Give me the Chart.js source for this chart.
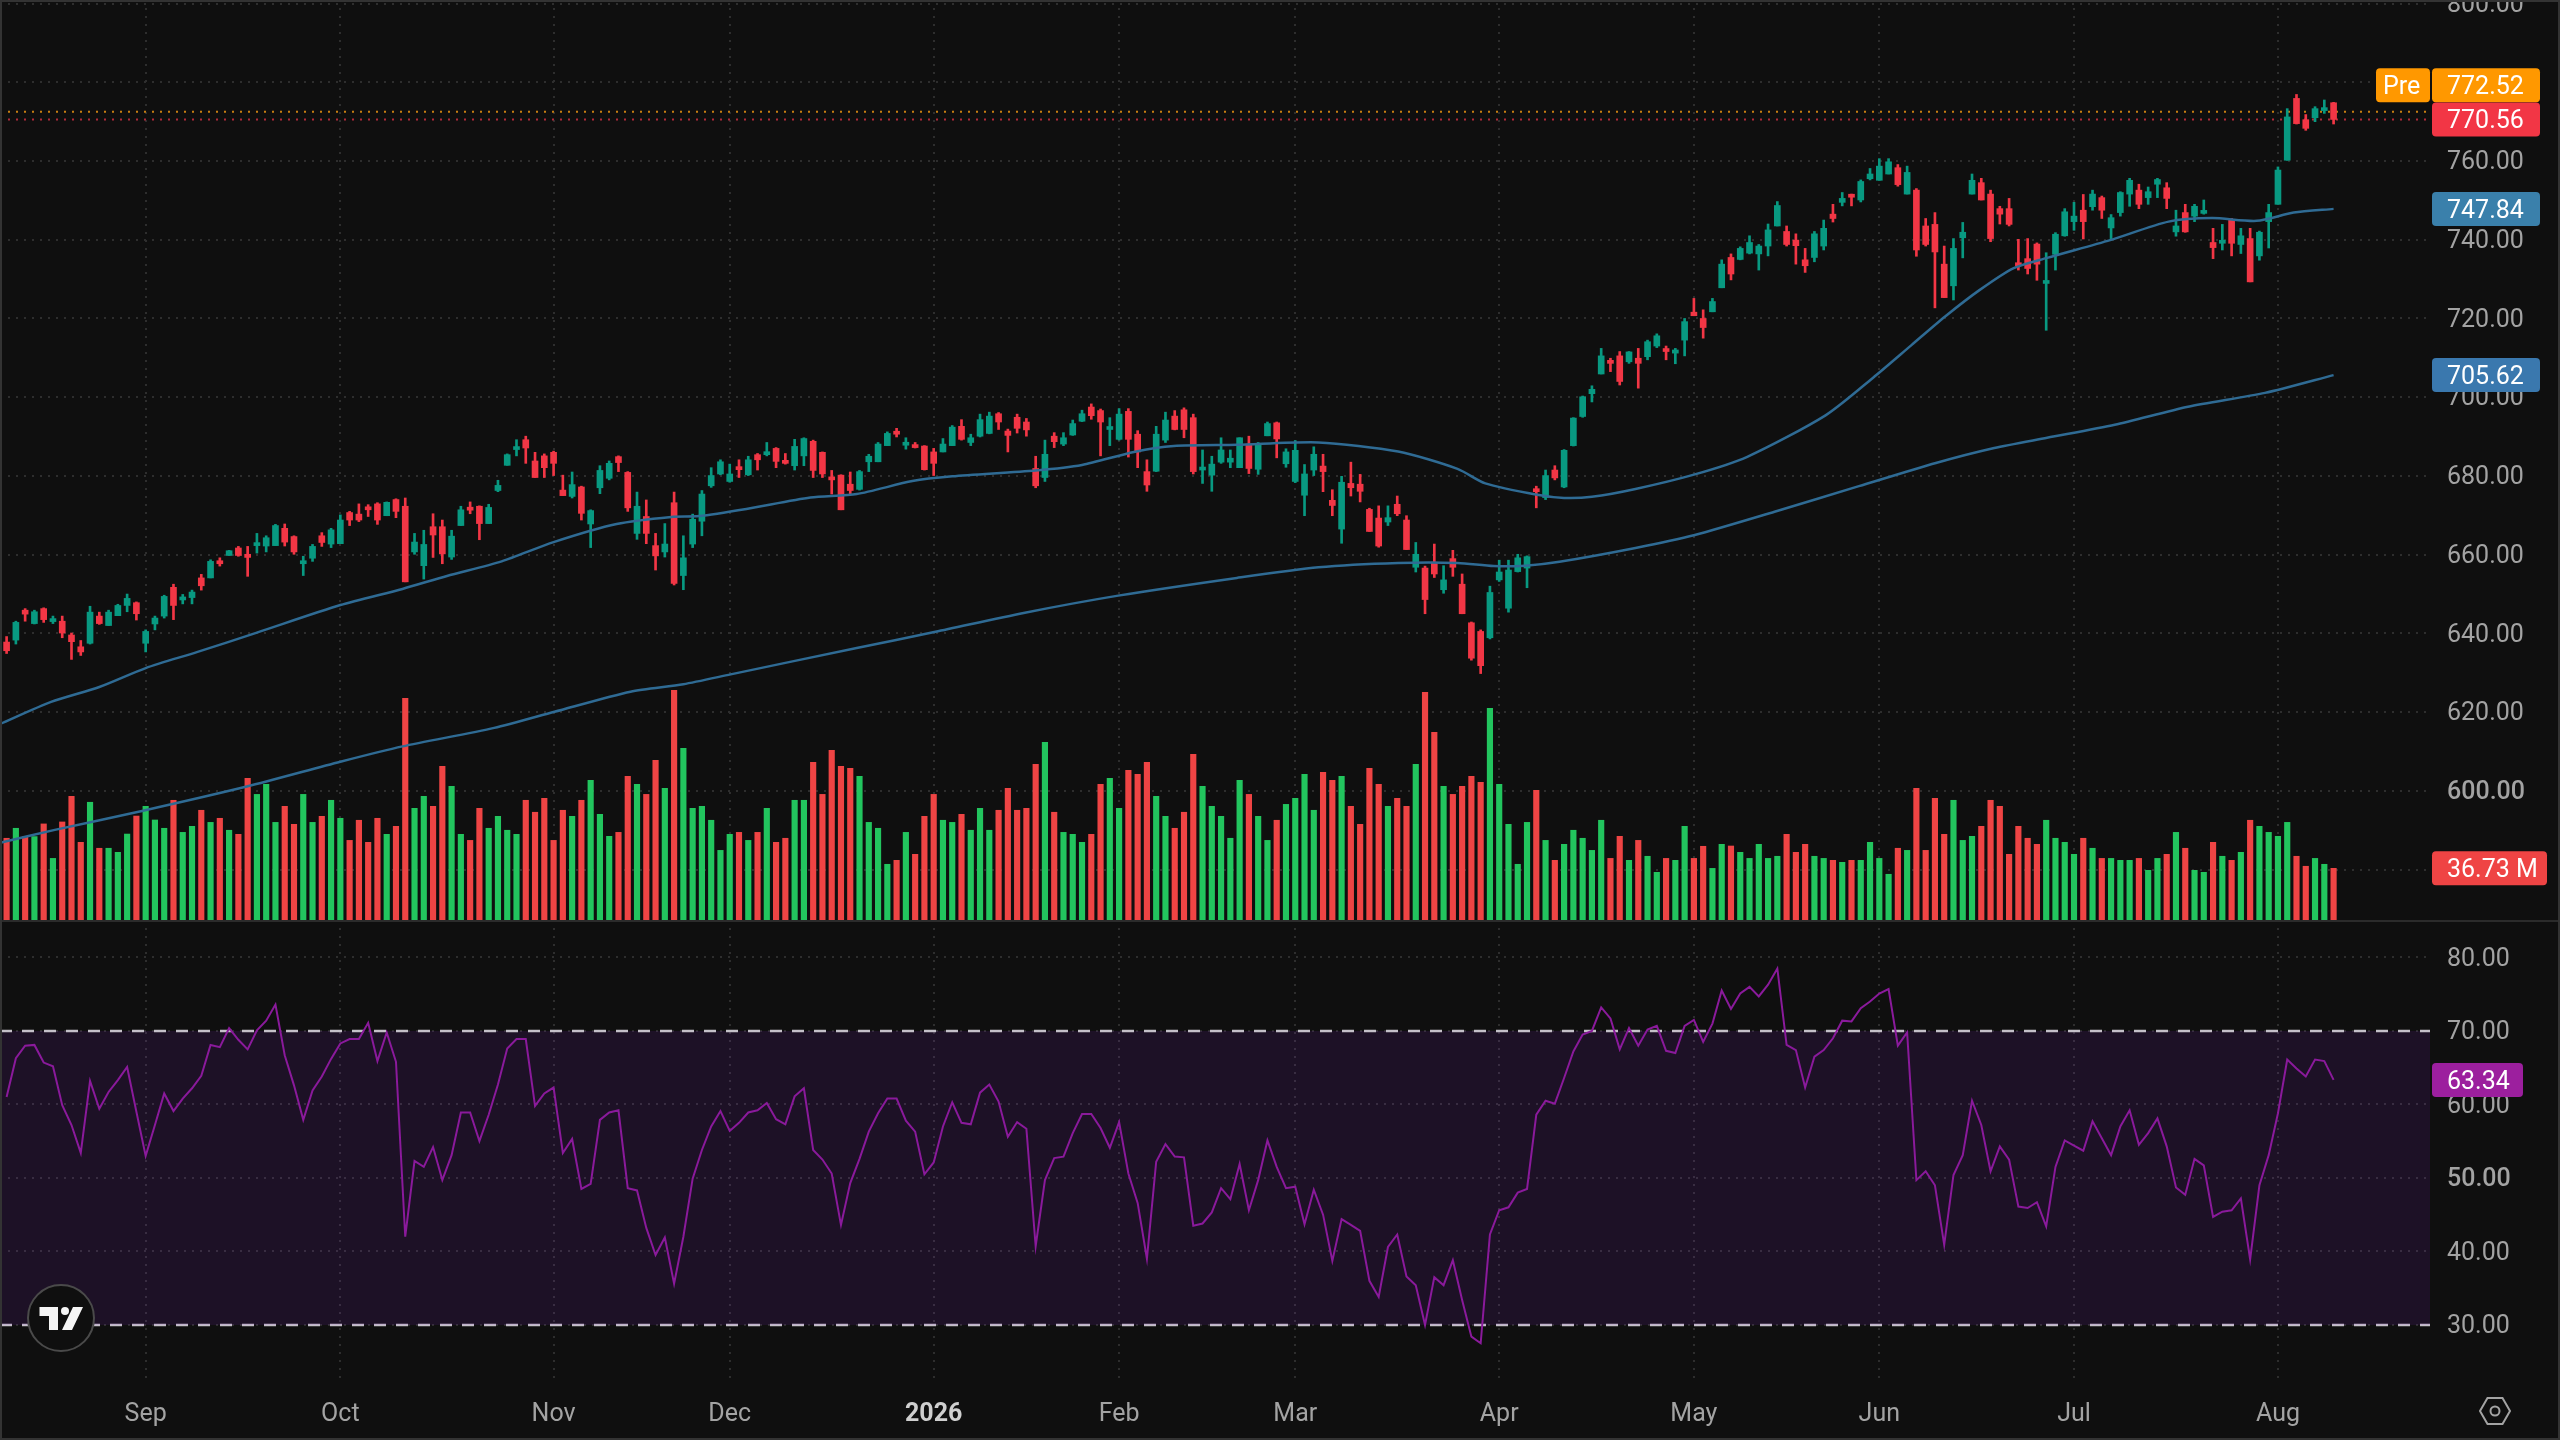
<!DOCTYPE html>
<html lang="en">
<head>
<meta charset="UTF-8">
<title>Price, volume and RSI</title>
<script src="https://cdn.jsdelivr.net/npm/chart.js"></script>
<style>
    html, body { margin: 0; background: #0f0f0f; width: 2560px; height: 1440px; overflow: hidden; }
    canvas { position: absolute; left: 0; display: block; }
    #priceChart { top: 0; }
    #rsiChart { top: 920px; }
    #divider { position: absolute; left: 0; top: 920px; width: 2560px; height: 2px; background: #2b2b2b; }
    #frame { position: absolute; left: 0; top: 0; width: 2556px; height: 1436px; border: 2px solid #333; }
    #marks { position: absolute; left: 0; top: 0; }
</style>
</head>
<body>
<canvas id="priceChart" width="2560" height="920"></canvas>
<canvas id="rsiChart" width="2560" height="520"></canvas>
<div id="divider"></div>
<div id="frame"></div>
<svg id="marks" width="2560" height="1440">
    <circle cx="61" cy="1318" r="33" fill="#0f0f0f" stroke="#4a4a4a" stroke-width="2"/>
    <path d="M39.5 1307H58V1330H49V1316H39.5Z M73 1307H83L72 1330H62Z" fill="#f5f5f5"/>
    <circle cx="65" cy="1311" r="4" fill="#f5f5f5"/>
    <path d="M2480 1411L2487.5 1398H2502.5L2510 1411L2502.5 1424H2487.5Z" fill="none" stroke="#a3a3a3" stroke-width="2"/>
    <circle cx="2495" cy="1411" r="4.5" fill="none" stroke="#a3a3a3" stroke-width="2"/>
</svg>

<script>
const opens = [637.8,638.3,645.9,642.5,646.3,643.0,643.1,639.6,636.6,637.5,
    644.4,642.0,644.5,647.1,647.8,637.5,642.4,644.4,651.7,648.5,
    649.1,654.1,654.1,658.3,659.8,661.7,660.1,662.3,662.2,662.3,
    666.7,664.6,657.7,659.1,664.8,662.7,662.8,670.7,670.3,671.8,
    672.9,669.9,674.0,672.3,660.7,657.2,667.1,667.1,659.4,667.4,
    672.0,672.3,667.9,676.3,682.7,686.7,689.2,683.8,685.1,686.0,
    676.4,674.8,677.2,667.8,677.0,679.4,684.9,680.9,665.4,669.7,
    662.3,660.7,673.2,654.7,662.7,668.5,677.5,680.5,678.6,682.1,
    680.3,685.4,685.4,687.0,683.5,682.6,685.1,688.8,686.0,679.5,
    680.2,677.9,676.6,683.6,683.6,687.7,691.3,687.8,687.5,687.6,
    686.1,686.1,687.7,692.6,688.5,690.1,690.8,695.8,691.4,694.9,
    693.7,681.9,679.6,690.1,688.1,690.4,693.9,697.5,696.6,691.8,
    689.3,696.4,690.6,681.1,681.2,689.1,695.2,696.8,694.8,681.5,
    680.2,683.5,683.5,682.1,688.1,681.7,690.2,693.5,683.1,678.6,
    675.1,681.5,682.5,673.8,666.5,678.1,677.9,671.5,669.3,668.3,
    672.8,668.8,656.8,656.6,658.1,651.1,659.0,652.5,642.7,640.5,
    638.9,653.6,646.4,655.7,656.6,676.5,674.5,681.5,677.2,687.7,
    695.1,700.9,705.9,709.2,710.5,709.0,709.9,710.3,713.0,712.2,
    711.2,714.5,721.6,720.0,721.7,727.8,735.5,735.0,736.6,736.4,
    738.4,743.5,742.1,739.9,734.9,735.5,738.4,746.5,749.5,751.2,
    750.1,755.5,755.1,756.7,758.3,751.6,752.6,743.5,743.9,733.8,
    728.3,740.5,751.6,754.5,751.6,747.9,747.9,733.8,735.2,738.9,
    728.9,736.3,741.0,744.6,747.5,748.4,750.7,743.0,746.9,751.6,
    752.6,750.7,754.1,753.2,742.0,746.9,746.0,746.7,739.3,739.1,
    745.0,738.8,740.3,735.9,744.6,749.0,760.2,775.9,770.5,771.0,
    772.8,774.8];

const highs = [639.2,643.1,646.3,645.9,646.5,644.4,644.4,640.1,638.2,646.9,
    645.4,645.9,647.4,650.0,648.0,640.9,644.4,649.7,652.5,649.9,
    651.0,655.0,658.7,659.2,661.1,662.1,662.1,665.4,664.8,667.7,
    667.8,664.8,659.6,662.6,665.6,666.7,670.1,671.0,672.9,672.7,
    673.2,673.4,674.2,674.4,665.4,666.2,670.4,668.8,666.2,672.3,
    673.4,672.4,672.8,678.9,685.6,689.2,690.1,686.0,685.6,686.3,
    680.2,681.0,677.4,671.4,682.6,683.8,685.1,681.1,675.9,673.9,
    665.4,667.9,675.9,664.8,670.3,676.3,682.1,684.1,683.0,684.1,
    685.0,685.7,688.5,687.2,685.7,689.3,689.7,689.1,686.1,681.4,
    680.3,681.0,681.4,685.5,688.5,691.2,692.1,689.7,688.5,687.7,
    687.0,689.5,692.8,694.3,690.6,695.7,696.2,696.1,691.9,695.7,
    694.6,685.0,689.1,691.0,691.0,694.2,696.7,698.3,697.0,694.8,
    697.1,697.1,691.5,684.1,692.6,696.2,696.6,697.3,695.7,686.6,
    685.0,689.7,686.6,689.7,690.1,688.5,693.7,693.7,686.9,689.0,
    682.9,687.4,685.5,676.5,679.9,683.5,680.4,671.8,672.4,672.4,
    674.9,669.9,663.1,657.1,662.7,657.2,661.1,655.1,642.9,640.9,
    652.0,658.6,658.6,660.1,659.7,677.4,681.5,682.6,686.7,694.8,
    700.3,702.9,712.4,709.9,711.6,711.6,712.4,714.5,716.1,713.0,
    712.4,720.0,725.1,722.2,725.1,734.9,736.4,738.2,741.0,738.8,
    744.0,749.7,743.5,741.5,737.8,742.1,745.0,749.0,752.0,751.6,
    755.2,758.1,760.6,760.6,759.1,758.7,753.0,745.4,746.9,738.4,
    740.3,744.4,756.7,755.6,752.6,748.5,750.5,740.1,740.3,739.2,
    736.7,741.8,747.9,749.5,751.5,752.6,751.1,746.4,752.2,755.6,
    754.1,753.4,755.6,754.5,747.5,749.0,749.0,750.1,742.9,743.9,
    745.4,742.9,742.9,742.2,749.0,758.5,773.3,776.9,771.8,773.8,
    775.5,774.9];

const lows = [634.9,637.3,643.1,642.4,642.8,642.5,638.9,633.4,634.4,637.3,
    642.3,642.0,644.5,645.5,643.4,635.3,640.9,643.9,643.5,647.5,
    647.5,651.0,654.1,657.1,659.8,659.6,654.5,660.4,660.7,662.3,
    662.2,660.1,654.7,658.3,662.1,661.8,662.8,667.4,668.4,669.7,
    667.7,669.9,669.4,653.1,660.1,653.8,659.3,657.7,658.8,667.4,
    670.4,663.8,667.9,676.0,682.7,685.1,683.2,679.6,679.6,680.1,
    675.0,674.4,668.8,661.8,675.5,679.0,681.1,671.0,663.9,662.8,
    656.1,659.4,652.3,651.1,661.8,664.8,677.1,680.3,678.4,679.6,
    680.1,681.5,685.1,682.1,683.0,681.5,682.6,679.6,679.6,675.4,
    671.4,675.4,676.4,681.1,683.6,687.7,689.9,686.8,687.1,681.5,
    680.1,686.1,687.7,689.1,687.7,689.9,690.7,691.8,686.1,690.9,
    690.1,677.0,678.6,687.2,687.7,690.3,693.8,694.4,685.1,687.7,
    689.1,684.8,682.1,676.1,681.1,688.5,691.7,689.7,680.5,678.1,
    676.1,683.2,682.1,682.1,680.6,680.4,690.2,684.6,682.2,678.3,
    669.9,680.1,676.0,669.9,662.9,674.9,673.4,665.9,661.9,667.4,
    669.9,661.3,655.6,645.0,654.2,650.2,654.5,645.0,633.2,629.8,
    638.6,653.2,645.4,655.6,651.6,671.9,674.0,679.0,677.0,687.6,
    694.9,698.8,705.9,706.5,703.1,708.6,702.3,709.5,712.6,709.5,
    708.5,710.5,720.7,715.0,721.7,727.8,729.8,734.9,736.4,732.3,
    735.9,743.5,738.4,733.8,731.7,734.4,737.4,744.5,748.6,748.6,
    749.6,755.2,755.1,756.7,753.6,751.6,735.8,738.4,722.7,725.3,
    724.7,735.4,751.6,750.1,739.5,744.0,743.5,732.3,731.3,729.7,
    717.0,732.3,740.9,742.4,740.2,747.5,745.4,739.9,746.0,748.5,
    747.9,749.0,750.7,747.9,740.9,741.9,744.6,746.5,735.2,737.4,
    735.9,736.5,729.3,734.8,737.9,749.0,760.2,769.4,767.8,770.0,
    772.1,769.4];

const closes = [635.6,642.8,644.9,645.5,643.5,643.3,640.1,637.9,635.3,645.4,
    642.5,645.4,647.1,648.9,645.0,640.5,643.9,649.4,647.1,648.9,
    650.5,652.1,658.3,657.7,661.0,659.8,659.3,662.7,664.3,667.4,
    663.2,660.7,658.3,662.1,663.1,666.3,668.8,668.8,668.8,671.4,
    668.8,673.3,671.0,653.1,663.2,662.6,665.0,660.2,664.7,671.4,
    671.3,667.9,672.0,677.6,685.4,687.1,687.1,679.6,682.1,683.2,
    675.0,677.8,670.5,671.2,681.4,683.2,683.4,671.9,672.3,665.4,
    659.7,662.7,652.7,659.2,669.0,675.4,680.1,683.6,680.5,681.6,
    684.1,684.1,686.1,683.7,683.2,687.5,689.5,681.4,680.5,679.0,
    671.4,676.3,681.1,685.0,688.1,690.8,690.6,688.2,687.2,681.6,
    683.2,688.1,692.4,689.3,689.7,694.3,695.2,693.7,690.3,692.1,
    691.7,677.5,685.5,688.7,689.7,693.3,695.8,695.3,693.7,692.1,
    695.7,689.3,686.1,677.7,690.6,694.2,691.8,691.8,681.1,681.9,
    683.0,686.6,684.5,689.7,681.9,688.1,693.3,689.4,686.1,686.5,
    680.5,685.5,681.1,672.5,678.4,677.0,676.1,665.9,662.2,669.4,
    670.4,661.3,660.1,648.6,655.1,653.6,656.8,645.0,633.7,631.8,
    650.4,655.6,656.1,659.2,659.5,676.0,680.1,679.5,686.5,694.7,
    700.1,702.0,710.5,708.6,704.0,711.5,708.6,714.1,715.6,711.6,
    712.0,719.2,720.7,717.7,724.3,733.8,731.3,737.8,739.3,738.4,
    742.5,748.7,738.8,738.5,733.4,741.5,742.9,745.4,750.5,750.8,
    754.8,756.7,758.7,759.8,754.0,757.1,737.4,738.8,736.9,725.3,
    737.8,741.9,755.1,750.1,740.3,746.5,743.9,733.4,732.7,733.8,
    729.3,741.4,747.1,746.0,744.6,751.6,747.5,745.6,752.0,755.1,
    749.0,752.2,755.3,750.5,743.5,742.0,748.5,747.4,738.0,739.3,
    739.1,741.0,729.3,741.9,746.9,757.7,771.2,769.5,768.3,773.3,
    773.3,770.56];

// volume in millions
const volumes = [58.1,65.2,59.3,59.3,68.3,43.8,69.7,87.9,55.2,83.7,
    51.0,51.0,48.1,61.1,73.9,80.8,71.1,65.2,85.1,62.3,
    66.6,78.0,69.4,72.3,63.8,60.9,100.7,89.3,96.5,69.4,
    80.8,68.0,89.3,69.4,73.7,85.1,72.3,56.6,70.9,55.2,
    72.3,60.9,66.6,157.6,79.4,87.9,80.8,109.3,95.0,60.9,
    56.6,79.4,65.2,73.7,63.8,60.9,85.1,76.6,86.5,56.6,
    78.0,73.7,85.1,99.3,75.1,59.5,62.3,102.1,96.5,89.3,
    113.5,93.6,163.3,122.1,79.4,80.8,70.9,49.5,60.9,62.3,
    56.6,62.3,79.4,55.2,58.1,85.1,85.1,112.1,89.3,120.6,
    109.3,107.8,102.1,69.4,65.2,39.6,42.4,62.3,46.7,73.7,
    89.3,70.9,69.4,75.1,63.8,79.4,63.8,78.0,93.6,78.0,
    79.4,110.7,126.3,76.6,62.3,60.9,55.2,60.9,96.5,100.7,
    79.4,106.4,103.6,112.1,87.9,73.7,65.2,76.6,117.8,95.0,
    80.8,73.7,58.1,99.3,89.3,73.7,56.6,70.9,82.2,86.5,
    103.6,78.0,105.0,99.3,102.1,80.8,68.0,107.8,96.5,80.8,
    86.5,80.8,110.7,161.9,133.4,95.0,89.3,95.0,102.1,97.9,
    150.5,96.5,68.0,39.6,69.4,92.2,56.6,42.4,53.8,63.8,
    58.1,49.5,70.9,43.8,59.5,42.4,56.6,45.3,33.9,43.8,
    42.4,66.6,43.8,52.4,36.7,53.8,52.6,48.1,43.8,53.8,
    43.8,45.3,60.9,48.1,53.8,45.3,43.8,42.4,41.0,42.4,
    42.4,55.2,43.8,32.5,51.0,49.5,93.6,49.5,86.5,60.9,
    85.1,56.6,59.5,66.6,85.1,80.8,46.7,66.6,58.1,53.8,
    70.9,58.1,55.2,46.7,58.1,51.0,43.8,43.8,42.4,42.4,
    43.8,35.3,43.8,46.7,62.3,51.0,35.3,33.9,55.2,45.3,
    42.4,48.1,70.9,66.6,62.3,59.5,69.4,45.3,38.2,43.8,
    39.6,36.73];

// r = red bar, g = green bar, read per bar from the volume pane
const volumeSides = ['rgrgrgrrrg','rgggrgggrg','grgrgrrggg','rrggrggrrr','rgrrggrrgg',
    'rrggggrrrr','rgrgggrrgr','rgrggggggr','grgrrggrrr','rrg',
    'gggrgrrrgg','rgggrrrrrg','rgggrrggrr','rggrrrgggg','grggrggggr',
    'rgrrrrgrrg','rrgrrrrggg','ggrgrggggg','rrgrggrggr','rgg',
    'rgggggrrrg','grgrggggrg','rrrrgggrrr','rrrrggggrg','rgggrggrgr',
    'ggrgrgrggg','grrggr'].join('');

const rsiValues = [61.0,66.3,68.0,68.1,65.7,65.2,59.9,57.2,53.4,63.2,
    59.4,61.7,63.3,65.1,59.0,53.0,57.2,61.5,59.1,60.8,
    62.2,63.9,68.1,67.8,70.4,68.8,67.5,70.1,71.4,73.6,
    66.7,62.6,57.9,61.9,63.8,66.2,68.3,68.9,68.9,71.1,
    65.9,69.8,65.8,42.0,52.3,51.5,54.2,49.7,53.1,58.9,
    58.9,55.0,58.6,62.7,67.6,68.9,68.9,59.8,61.5,62.3,
    53.4,55.3,48.5,49.2,57.9,58.9,59.2,48.6,48.3,43.2,
    39.5,41.9,35.6,42.0,49.9,53.8,57.0,59.1,56.4,57.5,
    58.9,59.2,60.2,58.0,57.3,61.1,62.2,53.8,52.5,50.6,
    43.6,49.3,52.6,56.3,58.8,60.8,60.8,57.8,56.3,50.5,
    52.1,57.0,60.3,57.5,57.3,61.6,62.7,60.4,55.6,57.6,
    56.7,40.7,49.7,52.7,52.9,56.1,58.7,58.7,56.8,54.1,
    57.6,50.6,46.6,39.0,52.2,54.6,52.9,52.8,43.5,43.8,
    45.3,48.6,47.1,51.9,45.6,49.7,55.1,51.5,48.6,48.8,
    43.7,48.4,45.0,38.7,44.4,43.6,42.8,36.0,33.8,40.6,
    42.3,36.6,35.4,30.0,36.5,35.4,38.8,33.4,28.4,27.5,
    42.3,45.6,46.0,48.0,48.5,58.6,60.5,60.1,63.6,67.2,
    69.5,70.0,73.2,71.7,67.5,70.4,68.0,70.2,70.7,67.3,
    67.0,70.7,71.5,68.5,71.0,75.5,73.0,75.1,76.0,74.7,
    76.3,78.5,68.1,67.4,62.3,66.5,67.4,69.0,71.4,71.3,
    73.1,74.0,75.1,75.7,68.0,69.8,49.7,50.9,49.0,40.9,
    50.4,53.1,60.5,57.2,50.9,54.3,52.5,46.1,45.9,46.7,
    43.4,51.5,55.1,54.4,53.7,57.7,55.4,53.1,57.0,59.2,
    54.5,56.1,58.1,54.3,48.7,47.7,52.6,51.7,44.7,45.4,
    45.6,47.2,38.9,49.0,53.1,58.8,66.1,64.9,63.8,66.1,
    65.9,63.34];

// moving averages, read at the bar positions listed next to them
const fastMaBars = [-0.7,4.8,10,15,20.6,27,36,42.7,47.5,53.4,59,65.8,71.7,74.7,79.8,86.7,91.7,97.7,102,111,116,121.6,125.9,132.7,141.5,150.1,156.5,159.5,165.1,168,171,175.7,182.1,187.7,196.2,201.3,205.5,209.1,212.8,216.5,220.1,226.9,233.2,237.9,242.7,246.7,251];
const fastMaValues = [617,622.6,626.4,631.2,635.3,640.2,647.2,651.3,654.6,658.3,663.2,667.8,669.6,669.8,671.6,674.5,675.4,678.7,679.9,681.4,682.8,686.1,687.6,687.9,688.5,686.2,681.8,678.1,675.2,674.4,674.7,676.7,680.4,684.8,695.4,704.9,713.3,720.5,727.2,732.8,735.4,739.9,744.6,745.5,744.8,746.9,747.84];
const slowMaBars = [-0.7,5.2,14.6,25.9,36,42.7,52.6,59.1,67.3,73,78.1,91.7,100.2,109.7,119.9,132.7,141.5,150.1,156.5,160.4,163.8,167.5,175.7,182.1,190.7,199.8,208.1,214.4,220.1,227.4,235.3,243.6,251];
const slowMaValues = [586.8,590.1,594.9,601.1,607.4,611.3,616,620.1,625.2,627.1,629.6,636.3,640.4,645.2,649.6,654.1,656.8,657.9,657.9,657.1,657.2,658.2,661.7,665,670.9,677.4,683.3,687.1,689.7,693,697.6,701.1,705.62];

const monthBars = [15,36,59,78,100,120,139,161,182,202,223,245];
const monthLabels = ['Sep','Oct','Nov','Dec','2026','Feb','Mar','Apr','May','Jun','Jul','Aug'];
const priceTicks = [580,600,620,640,660,680,700,720,740,760,780,800];
const rsiTicks = [30,40,50,60,70,80];

const lastClose = 770.56;
const prePrice = 772.52;
const lastVolume = 36.73;
const lastRsi = 63.34;
const rsiUpper = 70;
const rsiLower = 30;

const FONT = 'Roboto';
const TICK_COLOR = '#a3a3a3';
const GRID_COLOR = '#2e2e2e';
const RED = '#f23645';
const TEAL = '#089981';
const X_MIN = -0.712;
const X_MAX = 261.4;

const bars = opens.map((_, i) => i);
const noPadding = scale => {
    scale.paddingTop = scale.paddingBottom = scale.paddingLeft = scale.paddingRight = 0;
};
const tickIs = (c, value) => !!c.tick && c.tick.value === value;

function xScale(showLabels) {
    return {
        type: 'linear', min: X_MIN, max: X_MAX, offset: false, bounds: 'data',
        afterBuildTicks: axis => { axis.ticks = monthBars.map(v => ({ value: v })); },
        afterFit: s => { s.height = showLabels ? 60 : 0; noPadding(s); },
        grid: { color: GRID_COLOR, lineWidth: 2, drawTicks: false, offset: false },
        border: { display: false, dash: [2, 6] },
        ticks: {
            display: showLabels, autoSkip: false, maxRotation: 0, padding: 20,
            color: c => tickIs(c, 100) ? '#cfcfcf' : TICK_COLOR,
            font: c => ({ family: FONT, size: 25, weight: tickIs(c, 100) ? '700' : '400' }),
            callback: v => monthLabels[monthBars.indexOf(v)]
        }
    };
}

function yScale(min, max, tickValues, boldValue) {
    return {
        position: 'right', min, max, bounds: 'data',
        afterBuildTicks: axis => { axis.ticks = tickValues.map(v => ({ value: v })); },
        afterFit: s => { s.width = 130; noPadding(s); },
        grid: { color: GRID_COLOR, lineWidth: 2, drawTicks: false },
        border: { display: false, dash: [2, 6] },
        ticks: {
            autoSkip: false, padding: 17, crossAlign: 'near', labelOffset: 2, color: TICK_COLOR,
            font: c => ({ family: FONT, size: 25, weight: tickIs(c, boldValue) ? '500' : '400' }),
            callback: v => v.toFixed(2)
        }
    };
}

function badge(ctx, left, width, centerY, color, text, textX) {
    const height = 34;
    ctx.save();
    ctx.fillStyle = color;
    ctx.beginPath();
    ctx.roundRect(left, centerY - height / 2, width, height, 4);
    ctx.fill();
    ctx.fillStyle = '#ffffff';
    ctx.font = '400 25px ' + FONT;
    ctx.textBaseline = 'middle';
    ctx.textAlign = 'left';
    ctx.fillText(text, textX, centerY + 2.5);
    ctx.restore();
}

const priceBadges = {
    id: 'priceBadges',
    afterDraw(chart) {
        const { ctx, scales: { y, yVol } } = chart;
        const preY = y.getPixelForValue(prePrice) - 26.5;
        badge(ctx, 2376, 54, preY, '#ff9800', 'Pre', 2383);
        badge(ctx, 2432, 108, preY, '#ff9800', prePrice.toFixed(2), 2447);
        badge(ctx, 2432, 108, y.getPixelForValue(lastClose), RED, lastClose.toFixed(2), 2447);
        badge(ctx, 2432, 108, y.getPixelForValue(fastMaValues[fastMaValues.length - 1]), '#3a80ab', fastMaValues[fastMaValues.length - 1].toFixed(2), 2447);
        badge(ctx, 2432, 108, y.getPixelForValue(slowMaValues[slowMaValues.length - 1]), '#3a78ae', slowMaValues[slowMaValues.length - 1].toFixed(2), 2447);
        badge(ctx, 2432, 115, yVol.getPixelForValue(lastVolume), '#ef4444', lastVolume.toFixed(2) + ' M', 2447);
    }
};

const rsiBadge = {
    id: 'rsiBadge',
    afterDraw(chart) {
        badge(chart.ctx, 2432, 91, chart.scales.y.getPixelForValue(lastRsi), '#9c1f9e', lastRsi.toFixed(2), 2447);
    }
};

new Chart(document.getElementById('priceChart'), {
    type: 'bar',
    data: {
        datasets: [
            {
                type: 'line', order: 6, borderColor: '#c77f12', borderWidth: 2, borderDash: [2, 6], pointRadius: 0,
                data: [{ x: X_MIN, y: prePrice }, { x: X_MAX, y: prePrice }]
            },
            {
                type: 'line', order: 6, borderColor: '#b02a3a', borderWidth: 2, borderDash: [2, 6], pointRadius: 0,
                data: [{ x: X_MIN, y: lastClose }, { x: X_MAX, y: lastClose }]
            },
            {
                yAxisID: 'yVol', order: 5, grouped: false, barThickness: 5.5, borderWidth: 0,
                backgroundColor: bars.map(i => volumeSides[i] === 'r' ? '#ef4444' : '#22c55e'),
                data: bars.map(i => ({ x: i, y: volumes[i] }))
            },
            {
                order: 4, grouped: false, barThickness: 2, borderWidth: 0,
                backgroundColor: bars.map(i => closes[i] < opens[i] ? RED : TEAL),
                data: bars.map(i => ({ x: i, y: [lows[i], highs[i]] }))
            },
            {
                order: 3, grouped: false, barThickness: 6, borderWidth: 0, minBarLength: 3,
                backgroundColor: bars.map(i => closes[i] < opens[i] ? RED : TEAL),
                data: bars.map(i => ({ x: i, y: [Math.min(opens[i], closes[i]), Math.max(opens[i], closes[i])] }))
            },
            {
                type: 'line', order: 1, borderColor: '#2f6b94', borderWidth: 2.5, pointRadius: 0, tension: 0.25,
                data: fastMaBars.map((b, i) => ({ x: b, y: fastMaValues[i] }))
            },
            {
                type: 'line', order: 1, borderColor: '#2f6b94', borderWidth: 2.5, pointRadius: 0, tension: 0.25,
                data: slowMaBars.map((b, i) => ({ x: b, y: slowMaValues[i] }))
            }
        ]
    },
    options: {
        responsive: false, animation: false,
        layout: { padding: 0 },
        plugins: { legend: { display: false }, tooltip: { enabled: false } },
        scales: {
            x: xScale(false),
            y: yScale(567.2, 800.9, priceTicks, 600),
            yVol: { display: false, min: 0, max: 654 }
        }
    },
    plugins: [priceBadges]
});

new Chart(document.getElementById('rsiChart'), {
    type: 'line',
    data: {
        datasets: [
            {
                order: 3, borderColor: '#c4c0c8', borderWidth: 2.5, borderDash: [12, 10], pointRadius: 0,
                fill: { target: '+1' }, backgroundColor: 'rgba(160, 40, 250, 0.1)',
                data: [{ x: X_MIN, y: rsiUpper }, { x: X_MAX, y: rsiUpper }]
            },
            {
                order: 3, borderColor: '#c4c0c8', borderWidth: 2.5, borderDash: [12, 10], pointRadius: 0,
                data: [{ x: X_MIN, y: rsiLower }, { x: X_MAX, y: rsiLower }]
            },
            {
                order: 1, borderColor: '#8a1a9b', borderWidth: 2, pointRadius: 0,
                data: bars.map(i => ({ x: i, y: rsiValues[i] }))
            }
        ]
    },
    options: {
        responsive: false, animation: false,
        layout: { padding: 0 },
        plugins: { legend: { display: false }, tooltip: { enabled: false } },
        scales: {
            x: xScale(true),
            y: yScale(22.5, 85.1, rsiTicks, 50)
        }
    },
    plugins: [rsiBadge]
});
</script>
</body>
</html>
